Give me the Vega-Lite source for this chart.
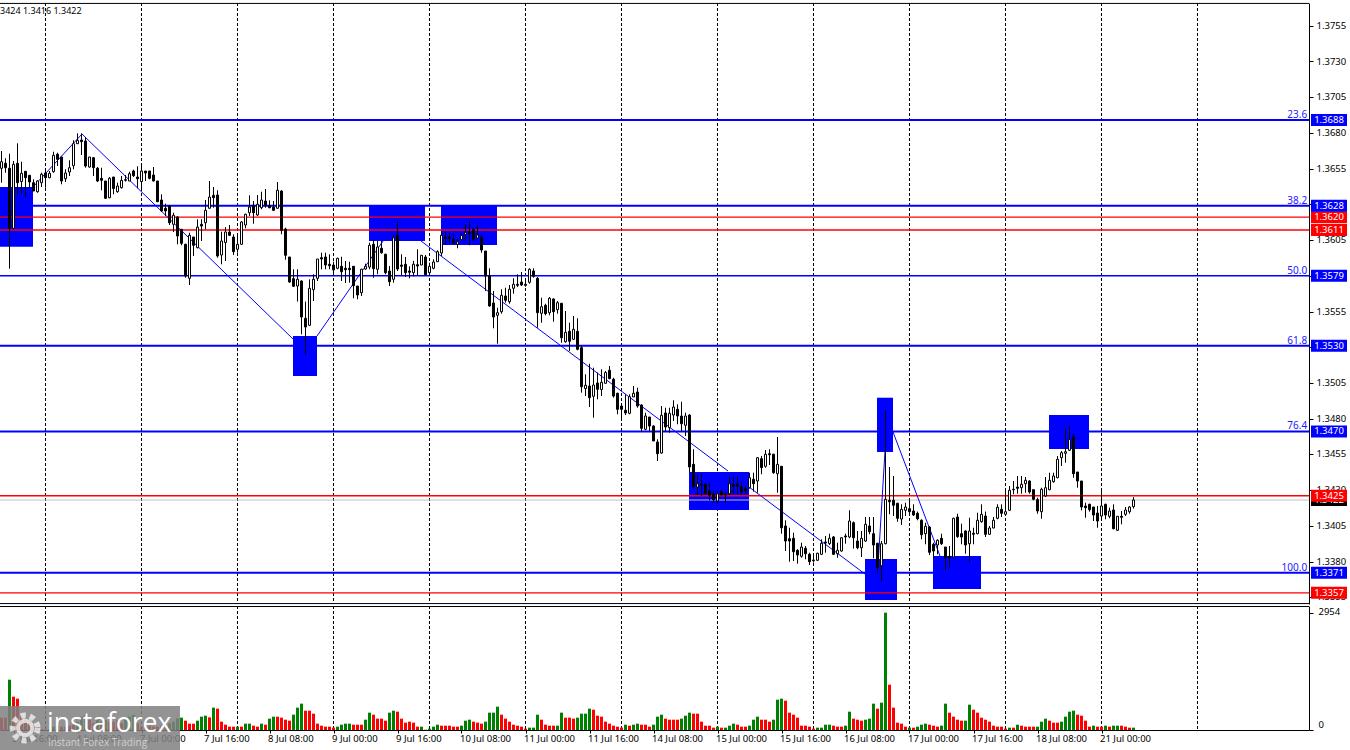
{"$schema":"https://vega.github.io/schema/vega-lite/v6.json","padding":{"left":-1,"top":2,"right":0,"bottom":0},"background":"#ffffff","spacing":2,"bounds":"flush","resolve":{"scale":{"color":"independent","strokeWidth":"independent","size":"independent"}},"config":{"view":{"stroke":null},"font":"Noto Sans","axis":{"labelFont":"Noto Sans","labelFontSize":9.5,"labelColor":"#000000","domainColor":"#000000","tickColor":"#000000","labelFlush":false,"labelOverlap":false,"labelBound":false,"grid":false}},
"datasets":{
"bars":[
{"i":0,"o":1.36542,"h":1.36663,"l":1.36441,"c":1.36588,"v":311,"t":"dn"},{"i":1,"o":1.36577,"h":1.36612,"l":1.36511,"c":1.36546,"v":311,"t":"dn"},{"i":2,"o":1.36542,"h":1.36644,"l":1.35839,"c":1.36122,"v":1268,"t":"up"},{"i":3,"o":1.36122,"h":1.36593,"l":1.36115,"c":1.3657,"v":840,"t":"dn"},{"i":4,"o":1.36577,"h":1.36717,"l":1.3636,"c":1.36441,"v":790,"t":"dn"},{"i":5,"o":1.36449,"h":1.36588,"l":1.3636,"c":1.36507,"v":336,"t":"dn"},{"i":6,"o":1.36521,"h":1.36521,"l":1.36336,"c":1.36476,"v":252,"t":"dn"},{"i":7,"o":1.36493,"h":1.36493,"l":1.36402,"c":1.36446,"v":210,"t":"dn"},{"i":8,"o":1.36441,"h":1.36465,"l":1.36383,"c":1.36383,"v":126,"t":"dn"},{"i":9,"o":1.36378,"h":1.36458,"l":1.36371,"c":1.36453,"v":59,"t":"dn"},
{"i":10,"o":1.36441,"h":1.36511,"l":1.36411,"c":1.365,"v":25,"t":"dn"},{"i":11,"o":1.36509,"h":1.36535,"l":1.36406,"c":1.36476,"v":8,"t":"dn"},{"i":12,"o":1.36476,"h":1.36523,"l":1.36472,"c":1.36507,"v":25,"t":"dn"},{"i":13,"o":1.36518,"h":1.36658,"l":1.36511,"c":1.36633,"v":84,"t":"up"},{"i":14,"o":1.3664,"h":1.36651,"l":1.36558,"c":1.36605,"v":109,"t":"up"},{"i":15,"o":1.36621,"h":1.36621,"l":1.3643,"c":1.36453,"v":84,"t":"dn"},{"i":16,"o":1.36469,"h":1.36535,"l":1.36446,"c":1.36509,"v":84,"t":"dn"},{"i":17,"o":1.36516,"h":1.36598,"l":1.36488,"c":1.36546,"v":109,"t":"dn"},{"i":18,"o":1.3656,"h":1.36738,"l":1.36535,"c":1.36714,"v":126,"t":"dn"},{"i":19,"o":1.36714,"h":1.36787,"l":1.36714,"c":1.36738,"v":210,"t":"up"},
{"i":20,"o":1.3674,"h":1.36787,"l":1.36635,"c":1.36728,"v":336,"t":"up"},{"i":21,"o":1.36733,"h":1.36761,"l":1.36546,"c":1.36558,"v":378,"t":"up"},{"i":22,"o":1.36551,"h":1.36621,"l":1.36546,"c":1.36621,"v":252,"t":"dn"},{"i":23,"o":1.36616,"h":1.36621,"l":1.36488,"c":1.36546,"v":168,"t":"dn"},{"i":24,"o":1.36542,"h":1.36551,"l":1.36446,"c":1.36453,"v":294,"t":"up"},{"i":25,"o":1.36472,"h":1.36546,"l":1.36388,"c":1.36458,"v":210,"t":"dn"},{"i":26,"o":1.36453,"h":1.36453,"l":1.36329,"c":1.36332,"v":252,"t":"up"},{"i":27,"o":1.36336,"h":1.36481,"l":1.36332,"c":1.36472,"v":210,"t":"dn"},{"i":28,"o":1.36481,"h":1.36481,"l":1.3636,"c":1.364,"v":210,"t":"dn"},{"i":29,"o":1.36378,"h":1.36441,"l":1.36371,"c":1.36418,"v":252,"t":"dn"},
{"i":30,"o":1.36406,"h":1.36488,"l":1.364,"c":1.36458,"v":168,"t":"dn"},{"i":31,"o":1.36462,"h":1.36495,"l":1.36449,"c":1.36458,"v":294,"t":"up"},{"i":32,"o":1.36453,"h":1.36518,"l":1.36453,"c":1.36504,"v":336,"t":"up"},{"i":33,"o":1.36523,"h":1.36532,"l":1.36481,"c":1.3649,"v":378,"t":"up"},{"i":34,"o":1.36481,"h":1.36556,"l":1.36402,"c":1.36469,"v":168,"t":"dn"},{"i":35,"o":1.36449,"h":1.36558,"l":1.36383,"c":1.36523,"v":84,"t":"dn"},{"i":36,"o":1.36523,"h":1.36523,"l":1.36453,"c":1.36509,"v":109,"t":"dn"},{"i":37,"o":1.36523,"h":1.36523,"l":1.36465,"c":1.36472,"v":109,"t":"dn"},{"i":38,"o":1.36495,"h":1.36551,"l":1.36449,"c":1.36453,"v":84,"t":"dn"},{"i":39,"o":1.36453,"h":1.36453,"l":1.36308,"c":1.36308,"v":84,"t":"dn"},
{"i":40,"o":1.3632,"h":1.3636,"l":1.36238,"c":1.36243,"v":109,"t":"dn"},{"i":41,"o":1.36262,"h":1.36294,"l":1.36208,"c":1.36243,"v":109,"t":"dn"},{"i":42,"o":1.36278,"h":1.36285,"l":1.36145,"c":1.36161,"v":168,"t":"up"},{"i":43,"o":1.3615,"h":1.36231,"l":1.36096,"c":1.36213,"v":210,"t":"up"},{"i":44,"o":1.36201,"h":1.36208,"l":1.3601,"c":1.36068,"v":294,"t":"up"},{"i":45,"o":1.36115,"h":1.36115,"l":1.36003,"c":1.36017,"v":311,"t":"up"},{"i":46,"o":1.3601,"h":1.36014,"l":1.35776,"c":1.35788,"v":235,"t":"dn"},{"i":47,"o":1.35772,"h":1.36091,"l":1.35725,"c":1.36073,"v":160,"t":"dn"},{"i":48,"o":1.36061,"h":1.36061,"l":1.35928,"c":1.36003,"v":160,"t":"dn"},{"i":49,"o":1.35986,"h":1.36185,"l":1.35982,"c":1.3613,"v":235,"t":"up"},
{"i":50,"o":1.3615,"h":1.36185,"l":1.36033,"c":1.36138,"v":336,"t":"up"},{"i":51,"o":1.36161,"h":1.3632,"l":1.36115,"c":1.36248,"v":361,"t":"up"},{"i":52,"o":1.36262,"h":1.36453,"l":1.36262,"c":1.36341,"v":319,"t":"dn"},{"i":53,"o":1.36353,"h":1.36411,"l":1.36266,"c":1.36336,"v":563,"t":"up"},{"i":54,"o":1.36355,"h":1.36388,"l":1.35916,"c":1.35928,"v":538,"t":"dn"},{"i":55,"o":1.35935,"h":1.36098,"l":1.3587,"c":1.36033,"v":210,"t":"dn"},{"i":56,"o":1.36022,"h":1.3613,"l":1.35893,"c":1.36096,"v":134,"t":"dn"},{"i":57,"o":1.36096,"h":1.36145,"l":1.36068,"c":1.36073,"v":84,"t":"dn"},{"i":58,"o":1.36061,"h":1.3608,"l":1.35935,"c":1.35958,"v":84,"t":"dn"},{"i":59,"o":1.35975,"h":1.36068,"l":1.35951,"c":1.3601,"v":84,"t":"up"},
{"i":60,"o":1.3601,"h":1.36173,"l":1.36005,"c":1.36166,"v":84,"t":"dn"},{"i":61,"o":1.36145,"h":1.36224,"l":1.36122,"c":1.3622,"v":160,"t":"up"},{"i":62,"o":1.36231,"h":1.36353,"l":1.36208,"c":1.36271,"v":160,"t":"up"},{"i":63,"o":1.36283,"h":1.36313,"l":1.36154,"c":1.36231,"v":109,"t":"dn"},{"i":64,"o":1.36215,"h":1.36355,"l":1.36208,"c":1.3629,"v":84,"t":"dn"},{"i":65,"o":1.36266,"h":1.36378,"l":1.36255,"c":1.3632,"v":160,"t":"up"},{"i":66,"o":1.36313,"h":1.36397,"l":1.36266,"c":1.36285,"v":134,"t":"dn"},{"i":67,"o":1.3628,"h":1.36318,"l":1.36262,"c":1.36266,"v":286,"t":"up"},{"i":68,"o":1.36271,"h":1.36313,"l":1.36243,"c":1.36248,"v":336,"t":"up"},{"i":69,"o":1.36262,"h":1.36446,"l":1.36262,"c":1.36388,"v":336,"t":"dn"},
{"i":70,"o":1.36383,"h":1.36388,"l":1.3608,"c":1.36108,"v":311,"t":"dn"},{"i":71,"o":1.36117,"h":1.36126,"l":1.35902,"c":1.35933,"v":260,"t":"dn"},{"i":72,"o":1.35921,"h":1.35921,"l":1.35741,"c":1.35746,"v":235,"t":"dn"},{"i":73,"o":1.35769,"h":1.35835,"l":1.35711,"c":1.35716,"v":386,"t":"up"},{"i":74,"o":1.35718,"h":1.35835,"l":1.35609,"c":1.35765,"v":563,"t":"up"},{"i":75,"o":1.35753,"h":1.35758,"l":1.3538,"c":1.35501,"v":664,"t":"up"},{"i":76,"o":1.35492,"h":1.35609,"l":1.3524,"c":1.35431,"v":487,"t":"dn"},{"i":77,"o":1.35443,"h":1.35765,"l":1.35438,"c":1.35702,"v":487,"t":"dn"},{"i":78,"o":1.35692,"h":1.358,"l":1.35613,"c":1.35765,"v":412,"t":"dn"},{"i":79,"o":1.35772,"h":1.35907,"l":1.35753,"c":1.35907,"v":160,"t":"dn"},
{"i":80,"o":1.35916,"h":1.35951,"l":1.35835,"c":1.35907,"v":109,"t":"dn"},{"i":81,"o":1.35921,"h":1.35951,"l":1.35835,"c":1.35865,"v":84,"t":"dn"},{"i":82,"o":1.3587,"h":1.3594,"l":1.35835,"c":1.3586,"v":84,"t":"dn"},{"i":83,"o":1.35865,"h":1.35888,"l":1.35788,"c":1.3583,"v":59,"t":"dn"},{"i":84,"o":1.35842,"h":1.35916,"l":1.35835,"c":1.35912,"v":84,"t":"up"},{"i":85,"o":1.35856,"h":1.35923,"l":1.35753,"c":1.35818,"v":134,"t":"up"},{"i":86,"o":1.35842,"h":1.35893,"l":1.35739,"c":1.35832,"v":160,"t":"up"},{"i":87,"o":1.35842,"h":1.35888,"l":1.35741,"c":1.35832,"v":160,"t":"up"},{"i":88,"o":1.35856,"h":1.35856,"l":1.35632,"c":1.3572,"v":134,"t":"dn"},{"i":89,"o":1.35718,"h":1.35718,"l":1.35625,"c":1.35655,"v":134,"t":"dn"},
{"i":90,"o":1.35671,"h":1.35839,"l":1.35648,"c":1.35835,"v":134,"t":"dn"},{"i":91,"o":1.35837,"h":1.35874,"l":1.35832,"c":1.35856,"v":260,"t":"up"},{"i":92,"o":1.35851,"h":1.36021,"l":1.35835,"c":1.36003,"v":437,"t":"up"},{"i":93,"o":1.3601,"h":1.36038,"l":1.35776,"c":1.35839,"v":386,"t":"dn"},{"i":94,"o":1.35835,"h":1.36033,"l":1.358,"c":1.35991,"v":286,"t":"dn"},{"i":95,"o":1.35982,"h":1.36033,"l":1.35944,"c":1.35951,"v":286,"t":"dn"},{"i":96,"o":1.3594,"h":1.35944,"l":1.358,"c":1.35811,"v":235,"t":"dn"},{"i":97,"o":1.35823,"h":1.35858,"l":1.35718,"c":1.35748,"v":437,"t":"up"},{"i":98,"o":1.35765,"h":1.36075,"l":1.35741,"c":1.36056,"v":487,"t":"up"},{"i":99,"o":1.36075,"h":1.36173,"l":1.35823,"c":1.35837,"v":462,"t":"dn"},
{"i":100,"o":1.35865,"h":1.3594,"l":1.35788,"c":1.35856,"v":286,"t":"dn"},{"i":101,"o":1.3587,"h":1.35921,"l":1.35781,"c":1.35811,"v":185,"t":"dn"},{"i":102,"o":1.35823,"h":1.35856,"l":1.35772,"c":1.35814,"v":210,"t":"dn"},{"i":103,"o":1.35811,"h":1.35893,"l":1.35786,"c":1.3587,"v":185,"t":"dn"},{"i":104,"o":1.35867,"h":1.35975,"l":1.35788,"c":1.35858,"v":84,"t":"dn"},{"i":105,"o":1.35865,"h":1.35935,"l":1.35865,"c":1.35933,"v":84,"t":"up"},{"i":106,"o":1.35921,"h":1.35935,"l":1.35795,"c":1.35797,"v":8,"t":"dn"},{"i":107,"o":1.35811,"h":1.35881,"l":1.35788,"c":1.35856,"v":34,"t":"up"},{"i":108,"o":1.35842,"h":1.35905,"l":1.35835,"c":1.35886,"v":84,"t":"up"},{"i":109,"o":1.35888,"h":1.35968,"l":1.35888,"c":1.35958,"v":134,"t":"up"},
{"i":110,"o":1.35949,"h":1.36103,"l":1.35928,"c":1.36073,"v":109,"t":"dn"},{"i":111,"o":1.36061,"h":1.36096,"l":1.3601,"c":1.36052,"v":109,"t":"dn"},{"i":112,"o":1.36061,"h":1.36091,"l":1.36021,"c":1.36052,"v":109,"t":"dn"},{"i":113,"o":1.36045,"h":1.3608,"l":1.36014,"c":1.36021,"v":84,"t":"dn"},{"i":114,"o":1.3601,"h":1.36045,"l":1.35982,"c":1.36028,"v":84,"t":"dn"},{"i":115,"o":1.36042,"h":1.36084,"l":1.36033,"c":1.36073,"v":109,"t":"up"},{"i":116,"o":1.3608,"h":1.3615,"l":1.36038,"c":1.36094,"v":235,"t":"up"},{"i":117,"o":1.36091,"h":1.36173,"l":1.36003,"c":1.36087,"v":260,"t":"up"},{"i":118,"o":1.36115,"h":1.36126,"l":1.36033,"c":1.36045,"v":210,"t":"dn"},{"i":119,"o":1.36054,"h":1.36145,"l":1.36045,"c":1.36075,"v":185,"t":"dn"},
{"i":120,"o":1.36056,"h":1.36073,"l":1.35951,"c":1.3597,"v":160,"t":"dn"},{"i":121,"o":1.35963,"h":1.35963,"l":1.35683,"c":1.35788,"v":210,"t":"up"},{"i":122,"o":1.3579,"h":1.35842,"l":1.35573,"c":1.35578,"v":437,"t":"up"},{"i":123,"o":1.35599,"h":1.35683,"l":1.35422,"c":1.35501,"v":437,"t":"up"},{"i":124,"o":1.35513,"h":1.35566,"l":1.35314,"c":1.35531,"v":588,"t":"up"},{"i":125,"o":1.35538,"h":1.35695,"l":1.35524,"c":1.35653,"v":386,"t":"dn"},{"i":126,"o":1.35648,"h":1.35706,"l":1.35601,"c":1.35618,"v":286,"t":"dn"},{"i":127,"o":1.35608,"h":1.35725,"l":1.35594,"c":1.35695,"v":210,"t":"dn"},{"i":128,"o":1.35702,"h":1.35772,"l":1.35664,"c":1.3573,"v":134,"t":"dn"},{"i":129,"o":1.3573,"h":1.358,"l":1.35711,"c":1.35723,"v":109,"t":"dn"},
{"i":130,"o":1.35746,"h":1.35816,"l":1.35718,"c":1.35725,"v":84,"t":"dn"},{"i":131,"o":1.3573,"h":1.35772,"l":1.35713,"c":1.35723,"v":34,"t":"dn"},{"i":132,"o":1.35744,"h":1.35842,"l":1.35734,"c":1.35835,"v":59,"t":"up"},{"i":133,"o":1.35823,"h":1.35842,"l":1.35776,"c":1.35786,"v":59,"t":"up"},{"i":134,"o":1.35772,"h":1.35781,"l":1.35426,"c":1.35531,"v":386,"t":"up"},{"i":135,"o":1.35527,"h":1.35636,"l":1.35461,"c":1.35573,"v":260,"t":"dn"},{"i":136,"o":1.35583,"h":1.35594,"l":1.35513,"c":1.35524,"v":134,"t":"dn"},{"i":137,"o":1.35531,"h":1.35641,"l":1.35513,"c":1.35632,"v":109,"t":"dn"},{"i":138,"o":1.35627,"h":1.35632,"l":1.35468,"c":1.35538,"v":109,"t":"dn"},{"i":139,"o":1.35552,"h":1.35613,"l":1.35524,"c":1.35601,"v":109,"t":"up"},
{"i":140,"o":1.35597,"h":1.35597,"l":1.35321,"c":1.35356,"v":437,"t":"up"},{"i":141,"o":1.35328,"h":1.35543,"l":1.35321,"c":1.35394,"v":311,"t":"dn"},{"i":142,"o":1.35401,"h":1.35461,"l":1.35263,"c":1.35331,"v":311,"t":"dn"},{"i":143,"o":1.35345,"h":1.35508,"l":1.3534,"c":1.35415,"v":286,"t":"dn"},{"i":144,"o":1.35401,"h":1.35492,"l":1.35268,"c":1.35275,"v":311,"t":"up"},{"i":145,"o":1.35286,"h":1.35298,"l":1.34971,"c":1.35013,"v":412,"t":"up"},{"i":146,"o":1.35,"h":1.351,"l":1.34948,"c":1.35023,"v":412,"t":"up"},{"i":147,"o":1.35018,"h":1.35174,"l":1.34871,"c":1.34936,"v":538,"t":"up"},{"i":148,"o":1.34946,"h":1.35146,"l":1.34796,"c":1.35025,"v":512,"t":"dn"},{"i":149,"o":1.35039,"h":1.35112,"l":1.34925,"c":1.34995,"v":361,"t":"dn"},
{"i":150,"o":1.34993,"h":1.35135,"l":1.34948,"c":1.35044,"v":336,"t":"dn"},{"i":151,"o":1.35037,"h":1.35123,"l":1.35034,"c":1.35112,"v":210,"t":"dn"},{"i":152,"o":1.35128,"h":1.35158,"l":1.35065,"c":1.3507,"v":160,"t":"dn"},{"i":153,"o":1.35065,"h":1.35076,"l":1.34936,"c":1.34948,"v":109,"t":"dn"},{"i":154,"o":1.34967,"h":1.34971,"l":1.3482,"c":1.34855,"v":84,"t":"dn"},{"i":155,"o":1.34878,"h":1.3489,"l":1.34792,"c":1.34855,"v":59,"t":"dn"},{"i":156,"o":1.34848,"h":1.3496,"l":1.34815,"c":1.34829,"v":134,"t":"up"},{"i":157,"o":1.34827,"h":1.3496,"l":1.3482,"c":1.34943,"v":109,"t":"dn"},{"i":158,"o":1.34941,"h":1.35018,"l":1.34941,"c":1.34967,"v":134,"t":"up"},{"i":159,"o":1.34976,"h":1.35006,"l":1.34866,"c":1.34878,"v":160,"t":"up"},
{"i":160,"o":1.34885,"h":1.3489,"l":1.34698,"c":1.34722,"v":134,"t":"dn"},{"i":161,"o":1.34715,"h":1.34831,"l":1.34708,"c":1.34808,"v":134,"t":"dn"},{"i":162,"o":1.34801,"h":1.34801,"l":1.34703,"c":1.34738,"v":84,"t":"dn"},{"i":163,"o":1.34738,"h":1.34743,"l":1.34633,"c":1.34633,"v":134,"t":"up"},{"i":164,"o":1.34626,"h":1.34645,"l":1.34493,"c":1.34544,"v":336,"t":"up"},{"i":165,"o":1.34549,"h":1.34878,"l":1.34544,"c":1.34813,"v":386,"t":"up"},{"i":166,"o":1.34829,"h":1.34866,"l":1.34703,"c":1.34731,"v":286,"t":"dn"},{"i":167,"o":1.34726,"h":1.34866,"l":1.34691,"c":1.34827,"v":260,"t":"dn"},{"i":168,"o":1.34815,"h":1.34918,"l":1.34773,"c":1.34871,"v":260,"t":"dn"},{"i":169,"o":1.34855,"h":1.3489,"l":1.3475,"c":1.34808,"v":260,"t":"dn"},
{"i":170,"o":1.34808,"h":1.34908,"l":1.34703,"c":1.34754,"v":286,"t":"up"},{"i":171,"o":1.34743,"h":1.34831,"l":1.34668,"c":1.34808,"v":361,"t":"up"},{"i":172,"o":1.34815,"h":1.3482,"l":1.34411,"c":1.34451,"v":437,"t":"up"},{"i":173,"o":1.3447,"h":1.34575,"l":1.34302,"c":1.34311,"v":412,"t":"dn"},{"i":174,"o":1.34311,"h":1.344,"l":1.34255,"c":1.34334,"v":412,"t":"dn"},{"i":175,"o":1.3433,"h":1.34404,"l":1.34248,"c":1.34323,"v":210,"t":"dn"},{"i":176,"o":1.3433,"h":1.34334,"l":1.3426,"c":1.34264,"v":109,"t":"dn"},{"i":177,"o":1.34283,"h":1.34341,"l":1.34218,"c":1.34253,"v":109,"t":"dn"},{"i":178,"o":1.3426,"h":1.34283,"l":1.34201,"c":1.34222,"v":59,"t":"dn"},{"i":179,"o":1.34213,"h":1.34283,"l":1.34194,"c":1.34264,"v":84,"t":"up"},
{"i":180,"o":1.34278,"h":1.34288,"l":1.34253,"c":1.34255,"v":59,"t":"dn"},{"i":181,"o":1.34253,"h":1.34271,"l":1.34194,"c":1.3426,"v":59,"t":"up"},{"i":182,"o":1.34264,"h":1.34381,"l":1.34255,"c":1.34334,"v":109,"t":"up"},{"i":183,"o":1.3433,"h":1.34381,"l":1.34264,"c":1.34316,"v":160,"t":"up"},{"i":184,"o":1.3433,"h":1.34381,"l":1.34264,"c":1.34316,"v":134,"t":"dn"},{"i":185,"o":1.34311,"h":1.34348,"l":1.3426,"c":1.34276,"v":84,"t":"dn"},{"i":186,"o":1.343,"h":1.34318,"l":1.34264,"c":1.34283,"v":84,"t":"dn"},{"i":187,"o":1.34306,"h":1.34411,"l":1.343,"c":1.34376,"v":109,"t":"up"},{"i":188,"o":1.34365,"h":1.34411,"l":1.34278,"c":1.34334,"v":260,"t":"up"},{"i":189,"o":1.34353,"h":1.34521,"l":1.34271,"c":1.34516,"v":336,"t":"up"},
{"i":190,"o":1.34509,"h":1.34528,"l":1.344,"c":1.34446,"v":260,"t":"dn"},{"i":191,"o":1.34456,"h":1.3457,"l":1.34446,"c":1.3454,"v":260,"t":"dn"},{"i":192,"o":1.34544,"h":1.34575,"l":1.34465,"c":1.34537,"v":210,"t":"dn"},{"i":193,"o":1.3454,"h":1.34544,"l":1.34404,"c":1.34411,"v":260,"t":"up"},{"i":194,"o":1.34404,"h":1.34661,"l":1.34271,"c":1.3447,"v":764,"t":"up"},{"i":195,"o":1.34456,"h":1.34458,"l":1.33984,"c":1.34026,"v":790,"t":"up"},{"i":196,"o":1.34038,"h":1.34078,"l":1.33863,"c":1.33933,"v":739,"t":"dn"},{"i":197,"o":1.33949,"h":1.34026,"l":1.33788,"c":1.33933,"v":437,"t":"dn"},{"i":198,"o":1.33952,"h":1.33991,"l":1.33793,"c":1.33858,"v":386,"t":"dn"},{"i":199,"o":1.33868,"h":1.33875,"l":1.33774,"c":1.33835,"v":311,"t":"dn"},
{"i":200,"o":1.33826,"h":1.33921,"l":1.33816,"c":1.33891,"v":109,"t":"dn"},{"i":201,"o":1.33882,"h":1.33898,"l":1.33805,"c":1.33844,"v":109,"t":"dn"},{"i":202,"o":1.3384,"h":1.33851,"l":1.33765,"c":1.33788,"v":84,"t":"dn"},{"i":203,"o":1.338,"h":1.33828,"l":1.33782,"c":1.33795,"v":34,"t":"dn"},{"i":204,"o":1.33798,"h":1.33851,"l":1.33793,"c":1.33847,"v":59,"t":"up"},{"i":205,"o":1.3384,"h":1.33945,"l":1.33835,"c":1.33917,"v":59,"t":"up"},{"i":206,"o":1.33926,"h":1.33968,"l":1.33851,"c":1.33919,"v":134,"t":"up"},{"i":207,"o":1.33915,"h":1.33984,"l":1.33905,"c":1.33952,"v":134,"t":"up"},{"i":208,"o":1.33961,"h":1.33968,"l":1.33835,"c":1.3384,"v":109,"t":"dn"},{"i":209,"o":1.33844,"h":1.33921,"l":1.33816,"c":1.33868,"v":84,"t":"dn"},
{"i":210,"o":1.33863,"h":1.33961,"l":1.33858,"c":1.33956,"v":84,"t":"dn"},{"i":211,"o":1.33968,"h":1.33984,"l":1.33914,"c":1.33961,"v":109,"t":"up"},{"i":212,"o":1.33961,"h":1.34148,"l":1.33952,"c":1.34073,"v":462,"t":"up"},{"i":213,"o":1.34061,"h":1.3407,"l":1.3388,"c":1.33956,"v":286,"t":"dn"},{"i":214,"o":1.33933,"h":1.34003,"l":1.33875,"c":1.33886,"v":260,"t":"dn"},{"i":215,"o":1.33886,"h":1.34003,"l":1.33821,"c":1.33952,"v":235,"t":"dn"},{"i":216,"o":1.33933,"h":1.34101,"l":1.33928,"c":1.3405,"v":260,"t":"up"},{"i":217,"o":1.34038,"h":1.34101,"l":1.3398,"c":1.33998,"v":286,"t":"up"},{"i":218,"o":1.33984,"h":1.34101,"l":1.33812,"c":1.33905,"v":664,"t":"up"},{"i":219,"o":1.33917,"h":1.33921,"l":1.33711,"c":1.33746,"v":538,"t":"dn"},
{"i":220,"o":1.3376,"h":1.33933,"l":1.33649,"c":1.33914,"v":689,"t":"up"},{"i":221,"o":1.33914,"h":1.34848,"l":1.3391,"c":1.34225,"v":2957,"t":"up"},{"i":222,"o":1.34218,"h":1.34451,"l":1.3412,"c":1.34208,"v":1142,"t":"dn"},{"i":223,"o":1.34218,"h":1.34388,"l":1.34108,"c":1.34183,"v":563,"t":"dn"},{"i":224,"o":1.34197,"h":1.34201,"l":1.34068,"c":1.34092,"v":185,"t":"dn"},{"i":225,"o":1.34087,"h":1.3419,"l":1.34045,"c":1.34155,"v":160,"t":"dn"},{"i":226,"o":1.34148,"h":1.34201,"l":1.34108,"c":1.34171,"v":84,"t":"dn"},{"i":227,"o":1.34159,"h":1.34225,"l":1.34115,"c":1.34138,"v":59,"t":"up"},{"i":228,"o":1.34143,"h":1.3419,"l":1.34108,"c":1.34115,"v":59,"t":"dn"},{"i":229,"o":1.34127,"h":1.34139,"l":1.34078,"c":1.34089,"v":84,"t":"up"},
{"i":230,"o":1.34078,"h":1.34085,"l":1.33945,"c":1.33977,"v":134,"t":"up"},{"i":231,"o":1.33984,"h":1.34061,"l":1.3391,"c":1.34036,"v":160,"t":"up"},{"i":232,"o":1.34031,"h":1.34038,"l":1.33835,"c":1.33854,"v":134,"t":"dn"},{"i":233,"o":1.3391,"h":1.33921,"l":1.33812,"c":1.33863,"v":109,"t":"dn"},{"i":234,"o":1.33905,"h":1.33945,"l":1.3384,"c":1.33938,"v":84,"t":"dn"},{"i":235,"o":1.33952,"h":1.33984,"l":1.33905,"c":1.33914,"v":109,"t":"up"},{"i":236,"o":1.33891,"h":1.33891,"l":1.33723,"c":1.33816,"v":664,"t":"up"},{"i":237,"o":1.33826,"h":1.33898,"l":1.33746,"c":1.33816,"v":437,"t":"dn"},{"i":238,"o":1.33821,"h":1.34096,"l":1.33816,"c":1.34092,"v":336,"t":"dn"},{"i":239,"o":1.34101,"h":1.34124,"l":1.33956,"c":1.33963,"v":260,"t":"dn"},
{"i":240,"o":1.33984,"h":1.34054,"l":1.3391,"c":1.33961,"v":235,"t":"dn"},{"i":241,"o":1.34003,"h":1.34008,"l":1.33844,"c":1.33905,"v":235,"t":"up"},{"i":242,"o":1.33914,"h":1.34096,"l":1.33782,"c":1.34003,"v":638,"t":"up"},{"i":243,"o":1.33987,"h":1.34026,"l":1.3391,"c":1.3398,"v":512,"t":"dn"},{"i":244,"o":1.33984,"h":1.34131,"l":1.3398,"c":1.34078,"v":437,"t":"dn"},{"i":245,"o":1.34068,"h":1.3419,"l":1.34061,"c":1.3412,"v":311,"t":"dn"},{"i":246,"o":1.34108,"h":1.34139,"l":1.33961,"c":1.3398,"v":260,"t":"dn"},{"i":247,"o":1.3398,"h":1.34038,"l":1.33975,"c":1.34024,"v":210,"t":"dn"},{"i":248,"o":1.34024,"h":1.34101,"l":1.34022,"c":1.34078,"v":109,"t":"dn"},{"i":249,"o":1.34092,"h":1.3419,"l":1.34085,"c":1.34169,"v":84,"t":"dn"},
{"i":250,"o":1.34155,"h":1.3419,"l":1.34101,"c":1.34127,"v":84,"t":"dn"},{"i":251,"o":1.3412,"h":1.34295,"l":1.34108,"c":1.34138,"v":34,"t":"dn"},{"i":252,"o":1.34148,"h":1.34318,"l":1.34143,"c":1.34288,"v":59,"t":"up"},{"i":253,"o":1.34295,"h":1.34353,"l":1.3426,"c":1.34292,"v":59,"t":"dn"},{"i":254,"o":1.34311,"h":1.34388,"l":1.34264,"c":1.34302,"v":134,"t":"up"},{"i":255,"o":1.34306,"h":1.34388,"l":1.34264,"c":1.3433,"v":109,"t":"dn"},{"i":256,"o":1.34334,"h":1.34381,"l":1.34271,"c":1.34358,"v":84,"t":"dn"},{"i":257,"o":1.34353,"h":1.34358,"l":1.34264,"c":1.34276,"v":84,"t":"dn"},{"i":258,"o":1.34292,"h":1.34292,"l":1.34218,"c":1.34225,"v":84,"t":"dn"},{"i":259,"o":1.34222,"h":1.34236,"l":1.34124,"c":1.34143,"v":84,"t":"up"},
{"i":260,"o":1.34138,"h":1.34306,"l":1.34089,"c":1.34295,"v":210,"t":"up"},{"i":261,"o":1.34248,"h":1.34381,"l":1.34241,"c":1.34306,"v":286,"t":"up"},{"i":262,"o":1.34292,"h":1.34411,"l":1.34288,"c":1.34358,"v":235,"t":"dn"},{"i":263,"o":1.34348,"h":1.34411,"l":1.34341,"c":1.34388,"v":185,"t":"dn"},{"i":264,"o":1.34376,"h":1.34528,"l":1.34372,"c":1.34505,"v":185,"t":"dn"},{"i":265,"o":1.34516,"h":1.34563,"l":1.34458,"c":1.34551,"v":210,"t":"up"},{"i":266,"o":1.34547,"h":1.34715,"l":1.34481,"c":1.34558,"v":336,"t":"up"},{"i":267,"o":1.34568,"h":1.34738,"l":1.34563,"c":1.34645,"v":462,"t":"up"},{"i":268,"o":1.34661,"h":1.3468,"l":1.34376,"c":1.34404,"v":487,"t":"up"},{"i":269,"o":1.34416,"h":1.34416,"l":1.34306,"c":1.34353,"v":386,"t":"dn"},
{"i":270,"o":1.34353,"h":1.34353,"l":1.34148,"c":1.34171,"v":361,"t":"dn"},{"i":271,"o":1.34178,"h":1.34201,"l":1.34096,"c":1.34166,"v":235,"t":"dn"},{"i":272,"o":1.3419,"h":1.34194,"l":1.34138,"c":1.34152,"v":84,"t":"dn"},{"i":273,"o":1.34171,"h":1.34171,"l":1.34073,"c":1.34115,"v":109,"t":"up"},{"i":274,"o":1.34129,"h":1.34178,"l":1.34026,"c":1.34073,"v":84,"t":"dn"},{"i":275,"o":1.34108,"h":1.34295,"l":1.34085,"c":1.34178,"v":84,"t":"dn"},{"i":276,"o":1.3419,"h":1.34194,"l":1.34085,"c":1.34115,"v":109,"t":"up"},{"i":277,"o":1.34106,"h":1.34166,"l":1.34092,"c":1.34143,"v":84,"t":"dn"},{"i":278,"o":1.3415,"h":1.3419,"l":1.34015,"c":1.34019,"v":109,"t":"up"},{"i":279,"o":1.34008,"h":1.34108,"l":1.34003,"c":1.34106,"v":109,"t":"up"},
{"i":280,"o":1.34106,"h":1.34143,"l":1.3405,"c":1.34099,"v":109,"t":"dn"},{"i":281,"o":1.3412,"h":1.34171,"l":1.34108,"c":1.3415,"v":84,"t":"dn"},{"i":282,"o":1.34138,"h":1.34178,"l":1.34124,"c":1.34171,"v":59,"t":"dn"},{"i":283,"o":1.34173,"h":1.3424,"l":1.3416,"c":1.3422,"v":59,"t":"up"}
],
"levels":[{"p":1.3422,"kind":"price"},{"p":1.3357,"kind":"sr"},{"p":1.3425,"kind":"sr"},{"p":1.3611,"kind":"sr"},{"p":1.362,"kind":"sr"},{"p":1.3688,"kind":"fib","fib":"23.6"},{"p":1.3628,"kind":"fib","fib":"38.2"},{"p":1.3579,"kind":"fibthin","fib":"50.0"},{"p":1.353,"kind":"fib","fib":"61.8"},{"p":1.347,"kind":"fib","fib":"76.4"},{"p":1.3371,"kind":"fib","fib":"100.0"}],
"chips":[{"p":1.3422,"hi":1.34262,"lo":1.34178,"kind":"price"},{"p":1.3425,"hi":1.34292,"lo":1.34208,"kind":"sr"},{"p":1.3357,"hi":1.33612,"lo":1.33528,"kind":"sr"},{"p":1.3611,"hi":1.36152,"lo":1.36068,"kind":"sr"},{"p":1.362,"hi":1.36242,"lo":1.36158,"kind":"sr"},{"p":1.3688,"hi":1.36922,"lo":1.36838,"kind":"fib"},{"p":1.3628,"hi":1.36322,"lo":1.36238,"kind":"fib"},{"p":1.3579,"hi":1.35832,"lo":1.35748,"kind":"fib"},{"p":1.353,"hi":1.35342,"lo":1.35258,"kind":"fib"},{"p":1.347,"hi":1.34742,"lo":1.34658,"kind":"fib"},{"p":1.3371,"hi":1.33752,"lo":1.33668,"kind":"fib"}],
"grid":[{"i":11},{"i":35},{"i":59},{"i":83},{"i":107},{"i":131},{"i":155},{"i":179},{"i":203},{"i":227},{"i":251},{"i":275},{"i":299}],
"boxes":[{"i1":-0.375,"i2":7.875,"p1":1.36411,"p2":1.35993},{"i1":72.875,"i2":78.875,"p1":1.35368,"p2":1.35088},{"i1":91.875,"i2":105.875,"p1":1.36278,"p2":1.36033},{"i1":109.875,"i2":123.875,"p1":1.36285,"p2":1.36005},{"i1":171.875,"i2":186.875,"p1":1.34416,"p2":1.3415},{"i1":218.875,"i2":222.875,"p1":1.34936,"p2":1.34556},{"i1":215.875,"i2":223.875,"p1":1.33807,"p2":1.3352},{"i1":232.875,"i2":244.875,"p1":1.33828,"p2":1.33597},{"i1":261.875,"i2":271.875,"p1":1.34815,"p2":1.34577}],
"zigzag":[{"i1":7.875,"p1":1.36411,"i2":20.125,"p2":1.36782},{"i1":20.125,"p1":1.36782,"i2":72.875,"p2":1.35347},{"i1":78.875,"p1":1.35368,"i2":95.375,"p2":1.36033},{"i1":104.875,"p1":1.36033,"i2":181.625,"p2":1.34423},{"i1":186.875,"p1":1.34311,"i2":218.875,"p2":1.33639},{"i1":218.875,"p1":1.33639,"i2":220.875,"p2":1.34563},{"i1":222.875,"p1":1.34696,"i2":234.625,"p2":1.33828}]
},
"vconcat":[
{"width":1309,"height":601,"layer":[
{"data":{"name":"grid"},"mark":{"type":"rule","color":"#000000","strokeWidth":1,"strokeDash":[3,2]},"encoding":{"x":{"field":"i","type":"quantitative","scale":{"domain":[-0.375,326.875],"nice":false,"zero":false,"padding":0},"axis":null}}},
{"data":{"name":"boxes"},"mark":{"type":"rect","color":"#0000ff"},"encoding":{"x":{"field":"i1","type":"quantitative","scale":{"domain":[-0.375,326.875],"nice":false,"zero":false,"padding":0},"axis":null},"x2":{"field":"i2"},"y":{"field":"p1","type":"quantitative","scale":{"domain":[1.33492,1.37699],"nice":false,"zero":false},"axis":{"orient":"right","title":null,"values":[1.3355,1.338,1.3405,1.343,1.3455,1.348,1.3505,1.353,1.3555,1.358,1.3605,1.363,1.3655,1.368,1.3705,1.373,1.3755],"tickCount":30,"format":".4f","tickSize":4,"labelPadding":3,"tickOffset":1.5,"labelOffset":-0.5,"domainWidth":1,"labelOverlap":false}},"y2":{"field":"p2"}}},
{"data":{"name":"levels"},"mark":{"type":"rule"},"encoding":{"y":{"field":"p","type":"quantitative","scale":{"domain":[1.33492,1.37699],"nice":false,"zero":false}},"color":{"field":"kind","type":"nominal","legend":null,"scale":{"domain":["fib","fibthin","sr","price"],"range":["#0000ff","#0000ff","#ff0000","#c0c0c0"]}},"strokeWidth":{"field":"kind","type":"nominal","legend":null,"scale":{"domain":["fib","fibthin","sr","price"],"range":[2,1,1,1]}}}},
{"data":{"name":"zigzag"},"mark":{"type":"rule","color":"#0000ff","strokeWidth":1},"encoding":{"x":{"field":"i1","type":"quantitative","scale":{"domain":[-0.375,326.875],"nice":false,"zero":false,"padding":0},"axis":null},"x2":{"field":"i2"},"y":{"field":"p1","type":"quantitative","scale":{"domain":[1.33492,1.37699],"nice":false,"zero":false}},"y2":{"field":"p2"}}},
{"data":{"name":"bars"},"mark":{"type":"rule","color":"#000000","strokeWidth":1},"encoding":{"x":{"field":"i","type":"quantitative","scale":{"domain":[-0.375,326.875],"nice":false,"zero":false,"padding":0},"axis":null},"y":{"field":"l","type":"quantitative","scale":{"domain":[1.33492,1.37699],"nice":false,"zero":false}},"y2":{"field":"h"}}},
{"data":{"name":"bars"},"mark":{"type":"bar","size":2,"orient":"vertical","stroke":"#000000","strokeWidth":1},"encoding":{"x":{"field":"i","type":"quantitative","scale":{"domain":[-0.375,326.875],"nice":false,"zero":false,"padding":0},"axis":null},"y":{"field":"o","type":"quantitative","scale":{"domain":[1.33492,1.37699],"nice":false,"zero":false}},"y2":{"field":"c"},"fill":{"condition":{"test":"datum.c>datum.o","value":"#ffffff"},"value":"#000000"}}},
{"data":{"name":"levels"},"transform":[{"filter":"isValid(datum.fib)"}],"mark":{"type":"text","align":"right","baseline":"alphabetic","dy":-2,"fontSize":10,"color":"#2020ff","font":"Noto Sans"},"encoding":{"x":{"datum":326.4,"type":"quantitative","scale":{"domain":[-0.375,326.875],"nice":false,"zero":false,"padding":0},"axis":null},"y":{"field":"p","type":"quantitative","scale":{"domain":[1.33492,1.37699],"nice":false,"zero":false}},"text":{"field":"fib"}}},
{"data":{"name":"chips"},"transform":[{"filter":"datum.kind=='price'"}],"mark":{"type":"rect","color":"#000000"},"encoding":{"x":{"datum":327.375,"type":"quantitative","scale":{"domain":[-0.375,326.875],"nice":false,"zero":false,"padding":0},"axis":null},"x2":{"datum":336.375},"y":{"field":"hi","type":"quantitative","scale":{"domain":[1.33492,1.37699],"nice":false,"zero":false}},"y2":{"field":"lo"}}},
{"data":{"name":"chips"},"transform":[{"filter":"datum.kind=='price'"}],"mark":{"type":"text","color":"#ffffff","fontSize":9.5,"font":"Noto Sans"},"encoding":{"x":{"datum":331.875,"type":"quantitative","scale":{"domain":[-0.375,326.875],"nice":false,"zero":false,"padding":0},"axis":null},"y":{"field":"p","type":"quantitative","scale":{"domain":[1.33492,1.37699],"nice":false,"zero":false}},"text":{"field":"p","format":".4f"}}},
{"data":{"name":"chips"},"transform":[{"filter":"datum.kind!='price'"}],"mark":{"type":"rect"},"encoding":{"x":{"datum":327.375,"type":"quantitative","scale":{"domain":[-0.375,326.875],"nice":false,"zero":false,"padding":0},"axis":null},"x2":{"datum":336.375},"y":{"field":"hi","type":"quantitative","scale":{"domain":[1.33492,1.37699],"nice":false,"zero":false}},"y2":{"field":"lo"},"fill":{"field":"kind","type":"nominal","legend":null,"scale":{"domain":["fib","sr"],"range":["#0000ff","#ff0000"]}}}},
{"data":{"name":"chips"},"transform":[{"filter":"datum.kind!='price'"}],"mark":{"type":"text","color":"#ffffff","fontSize":9.5,"font":"Noto Sans"},"encoding":{"x":{"datum":331.875,"type":"quantitative","scale":{"domain":[-0.375,326.875],"nice":false,"zero":false,"padding":0},"axis":null},"y":{"field":"p","type":"quantitative","scale":{"domain":[1.33492,1.37699],"nice":false,"zero":false}},"text":{"field":"p","format":".4f"}}},
{"data":{"values":[{"i":-0.375,"p":1.37643,"label":"3424 1.3416 1.3422"}]},"mark":{"type":"text","align":"left","fontSize":9,"color":"#000000","font":"Noto Sans"},"encoding":{"x":{"field":"i","type":"quantitative","scale":{"domain":[-0.375,326.875],"nice":false,"zero":false,"padding":0},"axis":null},"y":{"field":"p","type":"quantitative","scale":{"domain":[1.33492,1.37699],"nice":false,"zero":false}},"text":{"field":"label"}}},
{"data":{"values":[{"p":1.37696},{"p":1.33495}]},"mark":{"type":"rule","color":"#000000","strokeWidth":1},"encoding":{"y":{"field":"p","type":"quantitative","scale":{"domain":[1.33492,1.37699],"nice":false,"zero":false}}}}
]},
{"width":1309,"height":124,"layer":[
{"data":{"name":"grid"},"mark":{"type":"rule","color":"#000000","strokeWidth":1,"strokeDash":[3,2]},"encoding":{"x":{"field":"i","type":"quantitative","scale":{"domain":[-0.375,326.875],"nice":false,"zero":false,"padding":0},"axis":{"orient":"bottom","title":null,"values":[3,19,35,51,67,83,99,115,131,147,163,179,195,211,227,243,259,275],"tickCount":30,"labelExpr":"['3 Jul 16:00','4 Jul 08:00','7 Jul 00:00','7 Jul 16:00','8 Jul 08:00','9 Jul 00:00','9 Jul 16:00','10 Jul 08:00','11 Jul 00:00','11 Jul 16:00','14 Jul 08:00','15 Jul 00:00','15 Jul 16:00','16 Jul 08:00','17 Jul 00:00','17 Jul 16:00','18 Jul 08:00','21 Jul 00:00'][(datum.value-3)/16]","labelAlign":"left","labelOffset":-2,"tickSize":3,"labelPadding":0,"labelOverlap":false}}}},
{"data":{"name":"bars"},"mark":{"type":"bar","size":3,"orient":"vertical"},"encoding":{"x":{"field":"i","type":"quantitative","scale":{"domain":[-0.375,326.875],"nice":false,"zero":false,"padding":0}},"y":{"field":"v","type":"quantitative","stack":null,"scale":{"domain":[0,3125],"nice":false},"axis":{"orient":"right","title":null,"values":[0,2954],"format":"d","tickSize":4,"labelPadding":5,"labelOffset":-1,"labelOverlap":false,"labelBaseline":{"condition":{"test":"datum.value==0","value":"bottom"},"value":"middle"}}},"color":{"field":"t","type":"nominal","legend":null,"scale":{"domain":["up","dn"],"range":["#008000","#ff0000"]}}}},
{"data":{"values":[{"i1":-0.375,"i2":44.625,"v1":605,"v2":-529}]},"mark":{"type":"rect","color":"#808080","opacity":0.85,"clip":false},"encoding":{"x":{"field":"i1","type":"quantitative","scale":{"domain":[-0.375,326.875],"nice":false,"zero":false,"padding":0}},"x2":{"field":"i2"},"y":{"field":"v1","type":"quantitative","scale":{"domain":[0,3125],"nice":false}},"y2":{"field":"v2"}}},
{"data":{"values":[{"i":5.9,"v":50,"part":"outer"},{"i":5.9,"v":50,"part":"inner"}]},"mark":{"type":"point","filled":false,"stroke":"#ffffff","shape":"circle"},"encoding":{"x":{"field":"i","type":"quantitative","scale":{"domain":[-0.375,326.875],"nice":false,"zero":false,"padding":0}},"y":{"field":"v","type":"quantitative","scale":{"domain":[0,3125],"nice":false}},"size":{"field":"part","type":"nominal","legend":null,"scale":{"domain":["outer","inner"],"range":[620,200]}},"strokeWidth":{"field":"part","type":"nominal","legend":null,"scale":{"domain":["outer","inner"],"range":[6,4]}},"strokeDash":{"field":"part","type":"nominal","legend":null,"scale":{"domain":["outer","inner"],"range":[[5,4],[1,0]]}}}},
{"data":{"values":[{"i":11.4,"v":-50,"label":"instaforex"}]},"mark":{"type":"text","align":"left","baseline":"alphabetic","font":"Open Sans","fontSize":26.5,"color":"#ffffff"},"encoding":{"x":{"field":"i","type":"quantitative","scale":{"domain":[-0.375,326.875],"nice":false,"zero":false,"padding":0}},"y":{"field":"v","type":"quantitative","scale":{"domain":[0,3125],"nice":false}},"text":{"field":"label"}}},
{"data":{"values":[{"i":11.6,"v":-400,"label":"Instant Forex Trading"}]},"mark":{"type":"text","align":"left","baseline":"alphabetic","font":"Open Sans","fontSize":10,"color":"#d0d0d0"},"encoding":{"x":{"field":"i","type":"quantitative","scale":{"domain":[-0.375,326.875],"nice":false,"zero":false,"padding":0}},"y":{"field":"v","type":"quantitative","scale":{"domain":[0,3125],"nice":false}},"text":{"field":"label"}}},
{"data":{"values":[{"v":3112}]},"mark":{"type":"rule","color":"#000000","strokeWidth":1},"encoding":{"y":{"field":"v","type":"quantitative","scale":{"domain":[0,3125],"nice":false}}}}
]}
]}
